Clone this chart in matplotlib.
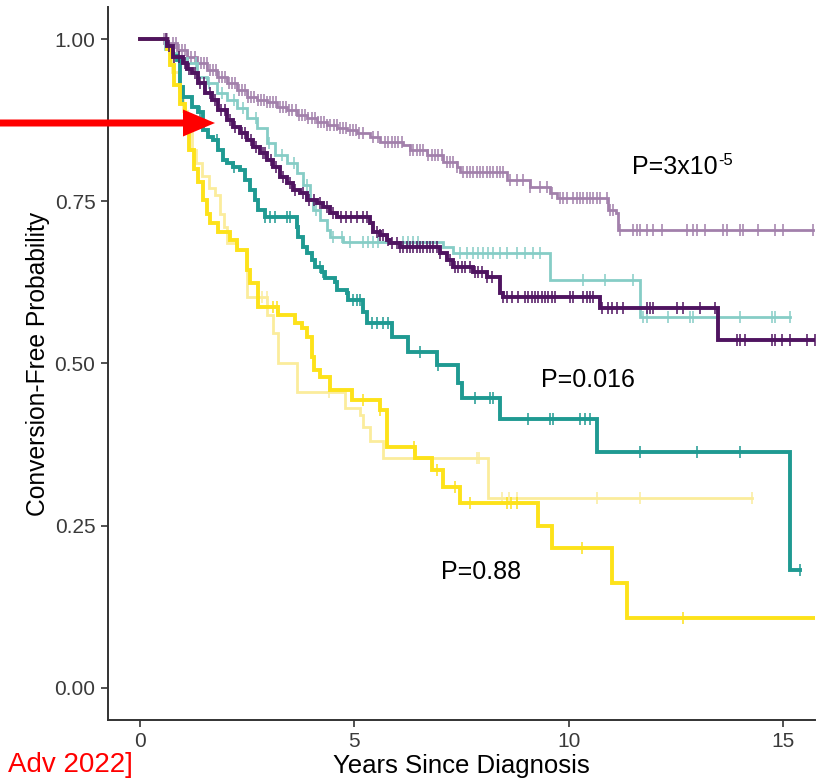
import numpy as np
import matplotlib
matplotlib.use("Agg")
import matplotlib.pyplot as plt
from matplotlib.patches import FancyArrow

plt.rcParams['font.family'] = ['Liberation Sans', 'DejaVu Sans']

# Kaplan-Meier curves: step times and survival after each step
# (last entry = end of follow-up, same value as before)
lp_t = [0, 0.63, 0.86, 1.10, 1.33, 1.56, 1.80, 2.03, 2.26, 2.50, 2.73, 2.96, 3.20, 3.43, 3.66,
        3.90, 4.13, 4.36, 4.60, 4.83, 5.06, 5.37, 5.60, 6.13, 6.30, 6.69, 7.07, 7.39, 7.46,
        8.56, 9.10, 9.56, 9.73, 10.92, 11.10, 11.15, 15.70]
lp_s = [1.0, 0.995, 0.984, 0.973, 0.964, 0.953, 0.942, 0.933, 0.922, 0.911, 0.906, 0.903, 0.896,
        0.891, 0.883, 0.879, 0.873, 0.868, 0.863, 0.860, 0.856, 0.849, 0.842, 0.837, 0.829,
        0.822, 0.811, 0.803, 0.795, 0.783, 0.772, 0.763, 0.755, 0.737, 0.732, 0.706, 0.706]
lp_cens = [0.55, 0.62, 0.68, 0.76, 0.83, 0.90, 0.98, 1.04, 1.12, 1.19, 1.27, 1.33, 1.41, 1.48,
           1.55, 1.63, 1.70, 1.77, 1.85, 1.92, 1.99, 2.07, 2.14, 2.21, 2.30, 2.37, 2.44, 2.52,
           2.59, 2.66, 2.74, 2.81, 2.89, 2.96, 3.03, 3.11, 3.18, 3.26, 3.33, 3.40, 3.48, 3.55,
           3.63, 3.70, 3.77, 3.85, 3.92, 4.00, 4.07, 4.14, 4.22, 4.29, 4.37, 4.44, 4.52, 4.59,
           4.66, 4.74, 4.81, 4.89, 4.96, 5.04, 5.11,
           5.20, 5.44, 5.55, 5.72, 5.79, 5.88, 5.95, 6.02, 6.11, 6.30, 6.37, 6.46, 6.53, 6.60,
           6.72, 6.81, 6.88, 6.95, 7.05, 7.16, 7.23, 7.30, 7.39, 7.53, 7.62, 7.70, 7.77, 7.86,
           7.93, 8.00, 8.09, 8.16, 8.23, 8.33, 8.40, 8.47, 8.63, 8.79, 8.93, 9.10, 9.33, 9.49,
           9.61, 9.80, 9.87, 9.96, 10.10, 10.19, 10.26, 10.33, 10.43, 10.50, 10.57, 10.66,
           10.73, 10.89, 10.96, 11.03, 11.20, 11.50, 11.59, 11.66, 11.83, 11.97, 12.18, 12.76,
           12.90, 12.99, 13.18, 13.60, 13.69, 14.00, 14.07, 14.42, 14.81, 15.00, 15.70]

dp_t = [0, 0.63, 0.77, 1.00, 1.10, 1.21, 1.35, 1.52, 1.68, 1.82, 2.03, 2.17, 2.33, 2.50, 2.64,
        2.80, 2.96, 3.10, 3.27, 3.43, 3.57, 3.73, 3.90, 4.13, 4.27, 4.43, 4.60, 5.37, 5.44,
        5.60, 5.76, 5.83, 6.06, 7.00, 7.16, 7.30, 7.77, 8.09, 8.40, 8.47, 10.73, 13.48, 15.75]
dp_s = [1.0, 0.99, 0.973, 0.964, 0.955, 0.948, 0.933, 0.917, 0.906, 0.891, 0.876, 0.865, 0.856,
        0.845, 0.834, 0.825, 0.814, 0.803, 0.788, 0.778, 0.768, 0.763, 0.752, 0.747, 0.741,
        0.732, 0.726, 0.717, 0.703, 0.698, 0.691, 0.686, 0.680, 0.670, 0.659, 0.649, 0.641,
        0.633, 0.608, 0.602, 0.585, 0.536, 0.536]
dp_cens = [0.60, 0.68, 0.80, 0.90, 1.05, 1.15, 1.28, 1.40, 1.50, 1.62, 1.75, 1.88, 1.97, 2.10,
           2.22, 2.38, 2.45, 2.58, 2.70, 2.86, 2.92, 3.05, 3.18, 3.33, 3.50, 3.62, 3.80, 3.95,
           4.05, 4.20, 4.35, 4.50, 4.68, 4.80, 4.92, 5.05,
           5.20, 5.30, 5.53, 5.60, 5.67, 5.79, 5.88, 6.00, 6.06, 6.13, 6.23, 6.30, 6.37, 6.46,
           6.53, 6.60, 6.69, 6.76, 6.83, 6.93, 7.00, 7.23, 7.35, 7.42, 7.51, 7.58, 7.70, 7.81,
           7.88, 7.98, 8.09, 8.21, 8.47, 8.56, 8.68, 8.82, 8.98, 9.05, 9.14, 9.21, 9.28, 9.38,
           9.45, 9.52, 9.61, 9.68, 10.03, 10.10, 10.33, 10.43, 10.50, 10.57, 10.78, 10.92,
           11.01, 11.13, 11.27, 11.83, 11.90, 11.97, 12.53, 12.67, 13.06, 13.41, 13.93, 14.00,
           14.11, 14.74, 14.81, 14.98, 15.16, 15.56, 15.74]

lt_t = [0, 0.58, 0.70, 0.86, 1.10, 1.33, 1.56, 1.80, 2.03, 2.26, 2.50, 2.73, 2.96, 3.15, 3.43,
        3.66, 3.80, 3.97, 4.04, 4.20, 4.36, 4.43, 4.74, 7.07, 7.30, 9.56, 11.66, 15.16]
lt_s = [1.0, 0.985, 0.979, 0.972, 0.964, 0.942, 0.933, 0.917, 0.906, 0.894, 0.879, 0.863, 0.840,
        0.822, 0.809, 0.794, 0.775, 0.752, 0.737, 0.721, 0.706, 0.695, 0.687, 0.680, 0.670,
        0.629, 0.571, 0.571]
lt_cens = [1.30, 1.60, 1.90, 2.20, 2.40, 2.70, 3.00, 3.30, 3.60, 3.90, 4.10, 4.50, 4.70, 4.90,
           5.20, 5.32, 5.44, 5.55, 6.13, 6.25, 6.37, 6.48, 7.46, 7.63, 7.77, 7.88, 8.00, 8.12,
           8.23, 8.40, 8.56, 8.79, 8.98, 9.17, 9.33, 10.33, 10.85, 11.50, 11.73, 11.83, 12.32,
           12.83, 12.90, 14.00, 14.74, 14.81, 15.16]

tl_t = [0, 0.62, 0.75, 0.86, 0.93, 1.00, 1.21, 1.35, 1.47, 1.59, 1.70, 1.82, 1.94, 2.03, 2.17,
        2.33, 2.45, 2.57, 2.68, 2.75, 2.92, 3.66, 3.69, 3.80, 3.90, 4.01, 4.08, 4.25, 4.32,
        4.55, 4.60, 4.83, 4.85, 5.20, 5.30, 5.88, 6.25, 6.93, 7.42, 7.51, 8.40, 10.66, 15.16, 15.40]
tl_s = [1.0, 0.985, 0.975, 0.968, 0.927, 0.911, 0.896, 0.888, 0.860, 0.849, 0.845, 0.829, 0.814,
        0.809, 0.803, 0.798, 0.783, 0.768, 0.752, 0.737, 0.726, 0.710, 0.695, 0.680, 0.670,
        0.659, 0.649, 0.641, 0.632, 0.625, 0.613, 0.608, 0.598, 0.580, 0.562, 0.541, 0.517,
        0.497, 0.470, 0.446, 0.414, 0.363, 0.181, 0.181]
tl_cens = [1.00, 1.40, 1.80, 2.20, 2.92, 3.03, 3.15, 3.43, 3.50, 4.20, 4.27, 4.97, 5.06, 5.13,
           5.41, 5.53, 5.67, 5.79, 6.53, 6.95, 7.81, 8.16, 8.23, 9.05, 9.56, 9.63, 10.26,
           10.38, 10.50, 11.66, 12.99, 14.00, 15.40]

ly_t = [0, 0.60, 0.75, 0.90, 1.00, 1.10, 1.20, 1.30, 1.45, 1.60, 1.75, 1.87, 1.95, 2.03, 2.25,
        2.50, 2.96, 3.10, 3.22, 3.66, 4.78, 5.13, 5.20, 5.37, 5.67, 8.12, 14.28]
ly_s = [1.0, 0.985, 0.95, 0.92, 0.89, 0.86, 0.83, 0.81, 0.79, 0.77, 0.76, 0.73, 0.71, 0.686,
        0.675, 0.602, 0.575, 0.547, 0.500, 0.456, 0.432, 0.420, 0.402, 0.381, 0.354, 0.293, 0.293]
ly_cens = [2.75, 2.85, 2.95, 4.40, 7.85, 7.90, 8.45, 8.60, 8.80, 10.66, 11.66, 14.28]

yl_t = [0, 0.63, 0.70, 0.80, 0.93, 1.05, 1.15, 1.25, 1.35, 1.47, 1.55, 1.63, 1.82, 2.10, 2.26,
        2.50, 2.57, 2.75, 3.22, 3.62, 3.78, 3.90, 4.00, 4.05, 4.20, 4.43, 4.95, 5.60, 5.76,
        6.41, 6.81, 7.07, 7.46, 9.28, 9.61, 11.01, 11.36, 15.75]
yl_s = [1.0, 0.985, 0.96, 0.93, 0.90, 0.86, 0.83, 0.80, 0.78, 0.752, 0.73, 0.717, 0.703, 0.691,
        0.675, 0.644, 0.624, 0.587, 0.575, 0.562, 0.554, 0.541, 0.51, 0.49, 0.479, 0.459,
        0.443, 0.428, 0.371, 0.354, 0.335, 0.309, 0.284, 0.250, 0.215, 0.162, 0.107, 0.107]
yl_cens = [3.10, 3.20, 5.20, 5.60, 6.40, 6.93, 7.35, 7.70, 8.55, 8.65, 8.80, 10.30, 12.67]

x_ticks = [0, 5, 10, 15]
y_ticks = [0.00, 0.25, 0.50, 0.75, 1.00]
y_labels = ["0.00", "0.25", "0.50", "0.75", "1.00"]


def surv_at(t_list, s_list, times):
    t_arr = np.asarray(t_list)
    s_arr = np.asarray(s_list)
    idx = np.searchsorted(t_arr, np.asarray(times), side='right') - 1
    return s_arr[np.clip(idx, 0, len(s_arr) - 1)]


fig = plt.figure(figsize=(8.37, 7.8), dpi=100)
ax = fig.add_axes([0.129, 0.077, 0.845, 0.914])

# faded (light) groups first, bold groups on top
curves = [
    (lp_t, lp_s, lp_cens, '#a280ab', 2.0),
    (lt_t, lt_s, lt_cens, '#86cdc6', 2.0),
    (ly_t, ly_s, ly_cens, '#fbec9c', 2.0),
    (tl_t, tl_s, tl_cens, '#1f9a92', 2.8),
    (yl_t, yl_s, yl_cens, '#fde21a', 2.8),
    (dp_t, dp_s, dp_cens, '#4f1460', 2.8),
]
for t, s, cens, col, lw in curves:
    ax.step(t, s, where='post', color=col, lw=lw, solid_joinstyle='miter')
    ax.plot(cens, surv_at(t, s, cens), ls='none', marker='|', ms=9, mew=1.1, color=col)

# p-values; superscript written with a plain hyphen as in the original
p1 = ax.text(11.48, 0.803, "P=3x10", fontsize=18, va='center', ha='left')
ax.annotate("-5", xy=(1.0, 0.78), xycoords=p1, fontsize=12, va='center', ha='left')
ax.text(9.35, 0.474, "P=0.016", fontsize=18, va='center', ha='left')
ax.text(7.02, 0.178, "P=0.88", fontsize=18, va='center', ha='left')

ax.set_xlim(-0.75, 15.75)
ax.set_ylim(-0.05, 1.05)
ax.set_xticks(x_ticks)
ax.set_yticks(y_ticks)
ax.set_yticklabels(y_labels)
for side in ['top', 'right']:
    ax.spines[side].set_visible(False)
for side in ['left', 'bottom']:
    ax.spines[side].set_linewidth(1.4)
    ax.spines[side].set_color('#333333')
ax.tick_params(axis='both', labelsize=15, colors='#333333', length=5, width=1.2, pad=4)
ax.tick_params(axis='both', labelcolor='#3a3a3a')
ax.set_xlabel("Years Since Diagnosis", fontsize=18.5, labelpad=2)
ax.set_ylabel("Conversion-Free Probability", fontsize=17.7, labelpad=3)

# red pointer arrow and citation fragment from the slide
fig.add_artist(FancyArrow(0, 657 / 780, 215 / 837, 0, width=7 / 780, head_width=27 / 780,
                          head_length=32 / 837, length_includes_head=True,
                          color='#ff0000', lw=0))
fig.text(8 / 837, 2 / 780, "Adv 2022]", color='#ff0000', fontsize=20, va='bottom', ha='left')

fig.savefig("out.png", dpi=100)
